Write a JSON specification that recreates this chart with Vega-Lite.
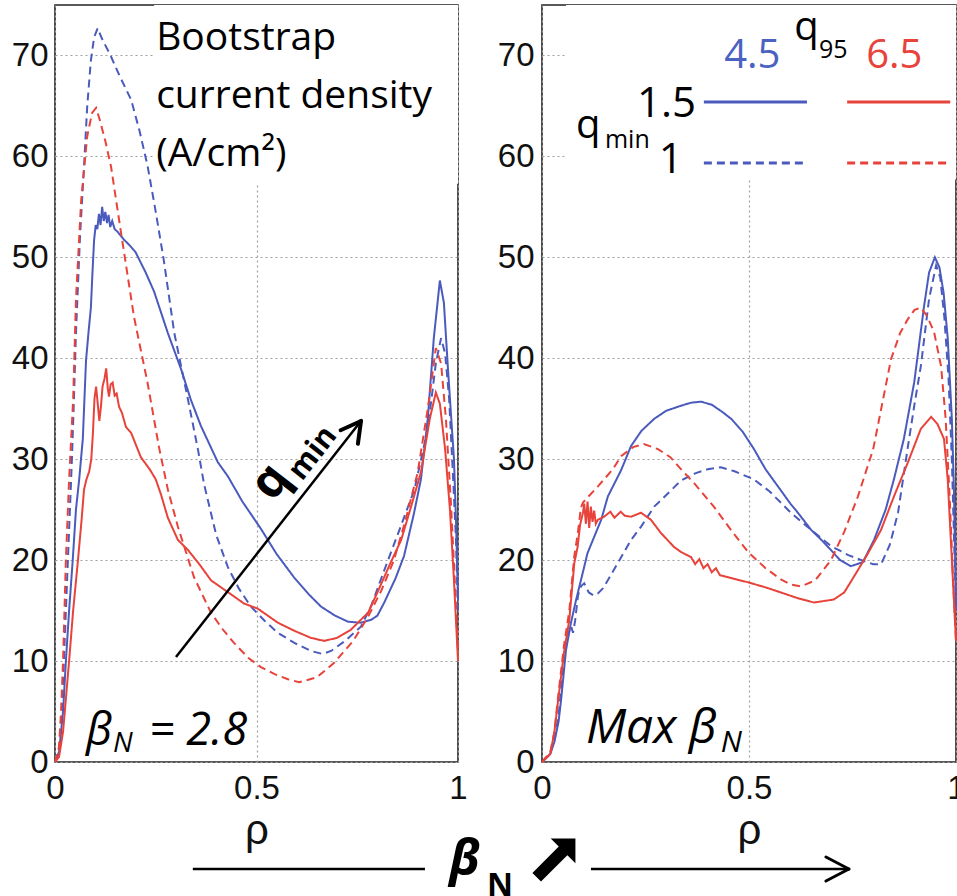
{
  "$schema": "https://vega.github.io/schema/vega-lite/v6.json",
  "background": "white",
  "padding": {"left": 10, "top": 4, "right": 0, "bottom": 0},
  "autosize": {"type": "pad"},
  "bounds": "flush",
  "spacing": 84,
  "config": {
    "view": {"stroke": "#222222", "strokeWidth": 1.6},
    "axis": {
      "labelFont": "Liberation Sans", "labelFontSize": 33, "labelColor": "#111111",
      "titleFont": "Liberation Sans", "titleColor": "#111111",
      "ticks": false, "domain": false,
      "gridColor": "#a0a0a0", "gridDash": [2, 3], "gridWidth": 1.2,
      "labelOverlap": false
    }
  },
  "datasets": {
    "curves": [
      {"p":"L","s":"b15","x":0,"y":0},{"p":"L","s":"b15","x":0.01,"y":1},{"p":"L","s":"b15","x":0.02,"y":5},{"p":"L","s":"b15","x":0.027,"y":10},{"p":"L","s":"b15","x":0.035,"y":15},{"p":"L","s":"b15","x":0.044,"y":20},{"p":"L","s":"b15","x":0.052,"y":25},{"p":"L","s":"b15","x":0.06,"y":28},{"p":"L","s":"b15","x":0.069,"y":32},{"p":"L","s":"b15","x":0.077,"y":39.8},{"p":"L","s":"b15","x":0.083,"y":42.5},{"p":"L","s":"b15","x":0.089,"y":45},{"p":"L","s":"b15","x":0.093,"y":48.5},{"p":"L","s":"b15","x":0.097,"y":51.7},{"p":"L","s":"b15","x":0.101,"y":53.2},{"p":"L","s":"b15","x":0.105,"y":52.8},{"p":"L","s":"b15","x":0.109,"y":54.3},{"p":"L","s":"b15","x":0.113,"y":53.2},{"p":"L","s":"b15","x":0.117,"y":55},{"p":"L","s":"b15","x":0.121,"y":53.6},{"p":"L","s":"b15","x":0.125,"y":54.5},{"p":"L","s":"b15","x":0.129,"y":53.4},{"p":"L","s":"b15","x":0.133,"y":54.2},{"p":"L","s":"b15","x":0.137,"y":53},{"p":"L","s":"b15","x":0.142,"y":53.6},{"p":"L","s":"b15","x":0.148,"y":52.8},{"p":"L","s":"b15","x":0.156,"y":52.5},{"p":"L","s":"b15","x":0.17,"y":51.8},{"p":"L","s":"b15","x":0.185,"y":51.2},{"p":"L","s":"b15","x":0.2,"y":50.5},{"p":"L","s":"b15","x":0.225,"y":48.5},{"p":"L","s":"b15","x":0.246,"y":46.6},{"p":"L","s":"b15","x":0.28,"y":42.5},{"p":"L","s":"b15","x":0.313,"y":38.9},{"p":"L","s":"b15","x":0.337,"y":35.9},{"p":"L","s":"b15","x":0.362,"y":33.3},{"p":"L","s":"b15","x":0.404,"y":29.7},{"p":"L","s":"b15","x":0.429,"y":28.3},{"p":"L","s":"b15","x":0.465,"y":25.8},{"p":"L","s":"b15","x":0.511,"y":23.1},{"p":"L","s":"b15","x":0.55,"y":20.6},{"p":"L","s":"b15","x":0.593,"y":18.3},{"p":"L","s":"b15","x":0.63,"y":16.6},{"p":"L","s":"b15","x":0.66,"y":15.4},{"p":"L","s":"b15","x":0.695,"y":14.5},{"p":"L","s":"b15","x":0.727,"y":13.9},{"p":"L","s":"b15","x":0.759,"y":13.8},{"p":"L","s":"b15","x":0.785,"y":14.1},{"p":"L","s":"b15","x":0.8,"y":14.5},{"p":"L","s":"b15","x":0.817,"y":15.8},{"p":"L","s":"b15","x":0.845,"y":18.2},{"p":"L","s":"b15","x":0.866,"y":20.4},{"p":"L","s":"b15","x":0.89,"y":24.5},{"p":"L","s":"b15","x":0.908,"y":28},{"p":"L","s":"b15","x":0.925,"y":34},{"p":"L","s":"b15","x":0.94,"y":42},{"p":"L","s":"b15","x":0.955,"y":47.7},{"p":"L","s":"b15","x":0.965,"y":45.5},{"p":"L","s":"b15","x":0.975,"y":39},{"p":"L","s":"b15","x":0.985,"y":33},{"p":"L","s":"b15","x":0.99,"y":30},{"p":"L","s":"b15","x":0.995,"y":24},{"p":"L","s":"b15","x":1,"y":16},

      {"p":"L","s":"b1","x":0,"y":0},{"p":"L","s":"b1","x":0.01,"y":1},{"p":"L","s":"b1","x":0.016,"y":4},{"p":"L","s":"b1","x":0.022,"y":10},{"p":"L","s":"b1","x":0.032,"y":20},{"p":"L","s":"b1","x":0.042,"y":30},{"p":"L","s":"b1","x":0.047,"y":36},{"p":"L","s":"b1","x":0.052,"y":42.5},{"p":"L","s":"b1","x":0.062,"y":52},{"p":"L","s":"b1","x":0.072,"y":59},{"p":"L","s":"b1","x":0.08,"y":65},{"p":"L","s":"b1","x":0.089,"y":69.5},{"p":"L","s":"b1","x":0.097,"y":71.8},{"p":"L","s":"b1","x":0.106,"y":72.7},{"p":"L","s":"b1","x":0.115,"y":71.8},{"p":"L","s":"b1","x":0.125,"y":71},{"p":"L","s":"b1","x":0.139,"y":69.9},{"p":"L","s":"b1","x":0.16,"y":68},{"p":"L","s":"b1","x":0.189,"y":65.6},{"p":"L","s":"b1","x":0.21,"y":62.5},{"p":"L","s":"b1","x":0.23,"y":59},{"p":"L","s":"b1","x":0.25,"y":54.5},{"p":"L","s":"b1","x":0.27,"y":49.7},{"p":"L","s":"b1","x":0.296,"y":42.5},{"p":"L","s":"b1","x":0.33,"y":35.9},{"p":"L","s":"b1","x":0.355,"y":30.9},{"p":"L","s":"b1","x":0.37,"y":27.5},{"p":"L","s":"b1","x":0.4,"y":22.5},{"p":"L","s":"b1","x":0.429,"y":19.3},{"p":"L","s":"b1","x":0.456,"y":17.2},{"p":"L","s":"b1","x":0.486,"y":15.4},{"p":"L","s":"b1","x":0.52,"y":14},{"p":"L","s":"b1","x":0.553,"y":12.8},{"p":"L","s":"b1","x":0.594,"y":11.8},{"p":"L","s":"b1","x":0.635,"y":11},{"p":"L","s":"b1","x":0.664,"y":10.7},{"p":"L","s":"b1","x":0.685,"y":11},{"p":"L","s":"b1","x":0.72,"y":12},{"p":"L","s":"b1","x":0.759,"y":13.4},{"p":"L","s":"b1","x":0.785,"y":15.5},{"p":"L","s":"b1","x":0.817,"y":19},{"p":"L","s":"b1","x":0.85,"y":22.5},{"p":"L","s":"b1","x":0.892,"y":27},{"p":"L","s":"b1","x":0.925,"y":33},{"p":"L","s":"b1","x":0.945,"y":39.5},{"p":"L","s":"b1","x":0.958,"y":42},{"p":"L","s":"b1","x":0.968,"y":40.5},{"p":"L","s":"b1","x":0.978,"y":36},{"p":"L","s":"b1","x":0.988,"y":28},{"p":"L","s":"b1","x":0.995,"y":22},{"p":"L","s":"b1","x":1,"y":15},

      {"p":"L","s":"r1","x":0,"y":0},{"p":"L","s":"r1","x":0.01,"y":1.5},{"p":"L","s":"r1","x":0.015,"y":5},{"p":"L","s":"r1","x":0.02,"y":10},{"p":"L","s":"r1","x":0.027,"y":20},{"p":"L","s":"r1","x":0.035,"y":28},{"p":"L","s":"r1","x":0.045,"y":35.9},{"p":"L","s":"r1","x":0.052,"y":45.8},{"p":"L","s":"r1","x":0.065,"y":55.7},{"p":"L","s":"r1","x":0.08,"y":62},{"p":"L","s":"r1","x":0.092,"y":64.3},{"p":"L","s":"r1","x":0.102,"y":64.8},{"p":"L","s":"r1","x":0.112,"y":63.5},{"p":"L","s":"r1","x":0.125,"y":61.5},{"p":"L","s":"r1","x":0.139,"y":59},{"p":"L","s":"r1","x":0.164,"y":52.4},{"p":"L","s":"r1","x":0.196,"y":44.1},{"p":"L","s":"r1","x":0.23,"y":37.5},{"p":"L","s":"r1","x":0.258,"y":31.2},{"p":"L","s":"r1","x":0.28,"y":27},{"p":"L","s":"r1","x":0.305,"y":23.3},{"p":"L","s":"r1","x":0.325,"y":20.8},{"p":"L","s":"r1","x":0.345,"y":18.3},{"p":"L","s":"r1","x":0.387,"y":14.8},{"p":"L","s":"r1","x":0.415,"y":13.2},{"p":"L","s":"r1","x":0.444,"y":11.8},{"p":"L","s":"r1","x":0.48,"y":10.3},{"p":"L","s":"r1","x":0.511,"y":9.4},{"p":"L","s":"r1","x":0.545,"y":8.7},{"p":"L","s":"r1","x":0.578,"y":8.2},{"p":"L","s":"r1","x":0.606,"y":7.9},{"p":"L","s":"r1","x":0.65,"y":8.4},{"p":"L","s":"r1","x":0.692,"y":9.8},{"p":"L","s":"r1","x":0.74,"y":12},{"p":"L","s":"r1","x":0.777,"y":14.4},{"p":"L","s":"r1","x":0.81,"y":17},{"p":"L","s":"r1","x":0.841,"y":20},{"p":"L","s":"r1","x":0.87,"y":24},{"p":"L","s":"r1","x":0.9,"y":28.7},{"p":"L","s":"r1","x":0.925,"y":35},{"p":"L","s":"r1","x":0.945,"y":41},{"p":"L","s":"r1","x":0.958,"y":39.5},{"p":"L","s":"r1","x":0.97,"y":34},{"p":"L","s":"r1","x":0.982,"y":26},{"p":"L","s":"r1","x":0.992,"y":18},{"p":"L","s":"r1","x":1,"y":11},

      {"p":"L","s":"r15","x":0,"y":0},{"p":"L","s":"r15","x":0.01,"y":0.5},{"p":"L","s":"r15","x":0.02,"y":3},{"p":"L","s":"r15","x":0.035,"y":10},{"p":"L","s":"r15","x":0.045,"y":15},{"p":"L","s":"r15","x":0.057,"y":20},{"p":"L","s":"r15","x":0.066,"y":24},{"p":"L","s":"r15","x":0.072,"y":27},{"p":"L","s":"r15","x":0.078,"y":28},{"p":"L","s":"r15","x":0.085,"y":28.8},{"p":"L","s":"r15","x":0.09,"y":30},{"p":"L","s":"r15","x":0.094,"y":32.5},{"p":"L","s":"r15","x":0.098,"y":36},{"p":"L","s":"r15","x":0.102,"y":37.2},{"p":"L","s":"r15","x":0.106,"y":35.5},{"p":"L","s":"r15","x":0.11,"y":33.8},{"p":"L","s":"r15","x":0.114,"y":35.2},{"p":"L","s":"r15","x":0.118,"y":37.2},{"p":"L","s":"r15","x":0.123,"y":38},{"p":"L","s":"r15","x":0.127,"y":39},{"p":"L","s":"r15","x":0.131,"y":37},{"p":"L","s":"r15","x":0.134,"y":36.2},{"p":"L","s":"r15","x":0.138,"y":37.4},{"p":"L","s":"r15","x":0.143,"y":37.6},{"p":"L","s":"r15","x":0.148,"y":36.3},{"p":"L","s":"r15","x":0.153,"y":36.5},{"p":"L","s":"r15","x":0.159,"y":35.2},{"p":"L","s":"r15","x":0.166,"y":34.6},{"p":"L","s":"r15","x":0.176,"y":33.2},{"p":"L","s":"r15","x":0.189,"y":32.6},{"p":"L","s":"r15","x":0.2,"y":31.5},{"p":"L","s":"r15","x":0.213,"y":30.2},{"p":"L","s":"r15","x":0.235,"y":29},{"p":"L","s":"r15","x":0.25,"y":28},{"p":"L","s":"r15","x":0.263,"y":26.5},{"p":"L","s":"r15","x":0.28,"y":24.2},{"p":"L","s":"r15","x":0.305,"y":22},{"p":"L","s":"r15","x":0.33,"y":21},{"p":"L","s":"r15","x":0.36,"y":19.5},{"p":"L","s":"r15","x":0.387,"y":18},{"p":"L","s":"r15","x":0.43,"y":16.8},{"p":"L","s":"r15","x":0.469,"y":15.7},{"p":"L","s":"r15","x":0.503,"y":15.2},{"p":"L","s":"r15","x":0.553,"y":13.8},{"p":"L","s":"r15","x":0.594,"y":13},{"p":"L","s":"r15","x":0.635,"y":12.3},{"p":"L","s":"r15","x":0.668,"y":12},{"p":"L","s":"r15","x":0.7,"y":12.3},{"p":"L","s":"r15","x":0.734,"y":13.1},{"p":"L","s":"r15","x":0.777,"y":14.8},{"p":"L","s":"r15","x":0.8,"y":16.8},{"p":"L","s":"r15","x":0.83,"y":19.5},{"p":"L","s":"r15","x":0.859,"y":22},{"p":"L","s":"r15","x":0.885,"y":25.5},{"p":"L","s":"r15","x":0.908,"y":28.7},{"p":"L","s":"r15","x":0.93,"y":34},{"p":"L","s":"r15","x":0.945,"y":36.6},{"p":"L","s":"r15","x":0.955,"y":35.5},{"p":"L","s":"r15","x":0.968,"y":31},{"p":"L","s":"r15","x":0.98,"y":25},{"p":"L","s":"r15","x":0.99,"y":18},{"p":"L","s":"r15","x":1,"y":10},

      {"p":"R","s":"b15","x":0,"y":0},{"p":"R","s":"b15","x":0.02,"y":0.8},{"p":"R","s":"b15","x":0.03,"y":2},{"p":"R","s":"b15","x":0.04,"y":4},{"p":"R","s":"b15","x":0.046,"y":6.1},{"p":"R","s":"b15","x":0.058,"y":11.1},{"p":"R","s":"b15","x":0.07,"y":13.8},{"p":"R","s":"b15","x":0.082,"y":16},{"p":"R","s":"b15","x":0.094,"y":18},{"p":"R","s":"b15","x":0.11,"y":20.7},{"p":"R","s":"b15","x":0.13,"y":22.7},{"p":"R","s":"b15","x":0.143,"y":24},{"p":"R","s":"b15","x":0.159,"y":26.3},{"p":"R","s":"b15","x":0.175,"y":27.6},{"p":"R","s":"b15","x":0.191,"y":28.9},{"p":"R","s":"b15","x":0.215,"y":31.3},{"p":"R","s":"b15","x":0.24,"y":32.8},{"p":"R","s":"b15","x":0.271,"y":34},{"p":"R","s":"b15","x":0.3,"y":34.8},{"p":"R","s":"b15","x":0.336,"y":35.3},{"p":"R","s":"b15","x":0.36,"y":35.6},{"p":"R","s":"b15","x":0.384,"y":35.7},{"p":"R","s":"b15","x":0.41,"y":35.4},{"p":"R","s":"b15","x":0.435,"y":34.7},{"p":"R","s":"b15","x":0.457,"y":34},{"p":"R","s":"b15","x":0.485,"y":32.7},{"p":"R","s":"b15","x":0.512,"y":31},{"p":"R","s":"b15","x":0.54,"y":29},{"p":"R","s":"b15","x":0.57,"y":27.3},{"p":"R","s":"b15","x":0.6,"y":25.6},{"p":"R","s":"b15","x":0.618,"y":24.7},{"p":"R","s":"b15","x":0.65,"y":23},{"p":"R","s":"b15","x":0.675,"y":22},{"p":"R","s":"b15","x":0.698,"y":21},{"p":"R","s":"b15","x":0.72,"y":20},{"p":"R","s":"b15","x":0.746,"y":19.4},{"p":"R","s":"b15","x":0.775,"y":19.8},{"p":"R","s":"b15","x":0.802,"y":22},{"p":"R","s":"b15","x":0.83,"y":25},{"p":"R","s":"b15","x":0.85,"y":28},{"p":"R","s":"b15","x":0.874,"y":32},{"p":"R","s":"b15","x":0.899,"y":37.6},{"p":"R","s":"b15","x":0.923,"y":45.2},{"p":"R","s":"b15","x":0.935,"y":48.5},{"p":"R","s":"b15","x":0.949,"y":50},{"p":"R","s":"b15","x":0.96,"y":49},{"p":"R","s":"b15","x":0.97,"y":46.5},{"p":"R","s":"b15","x":0.98,"y":42},{"p":"R","s":"b15","x":0.99,"y":34},{"p":"R","s":"b15","x":0.995,"y":27},{"p":"R","s":"b15","x":1,"y":15},

      {"p":"R","s":"b1","x":0,"y":0},{"p":"R","s":"b1","x":0.02,"y":0.8},{"p":"R","s":"b1","x":0.03,"y":2.5},{"p":"R","s":"b1","x":0.04,"y":4.5},{"p":"R","s":"b1","x":0.053,"y":10.4},{"p":"R","s":"b1","x":0.062,"y":12.5},{"p":"R","s":"b1","x":0.07,"y":13.5},{"p":"R","s":"b1","x":0.075,"y":12.8},{"p":"R","s":"b1","x":0.08,"y":14},{"p":"R","s":"b1","x":0.087,"y":16.5},{"p":"R","s":"b1","x":0.094,"y":17.4},{"p":"R","s":"b1","x":0.102,"y":17.7},{"p":"R","s":"b1","x":0.108,"y":17.2},{"p":"R","s":"b1","x":0.113,"y":16.8},{"p":"R","s":"b1","x":0.125,"y":16.5},{"p":"R","s":"b1","x":0.135,"y":16.7},{"p":"R","s":"b1","x":0.147,"y":17.2},{"p":"R","s":"b1","x":0.159,"y":18},{"p":"R","s":"b1","x":0.183,"y":19.7},{"p":"R","s":"b1","x":0.215,"y":22},{"p":"R","s":"b1","x":0.239,"y":23.3},{"p":"R","s":"b1","x":0.271,"y":25.3},{"p":"R","s":"b1","x":0.304,"y":26.6},{"p":"R","s":"b1","x":0.336,"y":27.9},{"p":"R","s":"b1","x":0.37,"y":28.6},{"p":"R","s":"b1","x":0.4,"y":29},{"p":"R","s":"b1","x":0.432,"y":29.2},{"p":"R","s":"b1","x":0.465,"y":28.8},{"p":"R","s":"b1","x":0.512,"y":28},{"p":"R","s":"b1","x":0.55,"y":26.8},{"p":"R","s":"b1","x":0.601,"y":24.7},{"p":"R","s":"b1","x":0.65,"y":23},{"p":"R","s":"b1","x":0.698,"y":21.4},{"p":"R","s":"b1","x":0.74,"y":20.5},{"p":"R","s":"b1","x":0.778,"y":19.9},{"p":"R","s":"b1","x":0.8,"y":19.6},{"p":"R","s":"b1","x":0.819,"y":19.6},{"p":"R","s":"b1","x":0.84,"y":21.5},{"p":"R","s":"b1","x":0.86,"y":24.7},{"p":"R","s":"b1","x":0.884,"y":31.3},{"p":"R","s":"b1","x":0.9,"y":35.5},{"p":"R","s":"b1","x":0.915,"y":39.2},{"p":"R","s":"b1","x":0.935,"y":45.9},{"p":"R","s":"b1","x":0.952,"y":49.2},{"p":"R","s":"b1","x":0.962,"y":48},{"p":"R","s":"b1","x":0.972,"y":44},{"p":"R","s":"b1","x":0.982,"y":38},{"p":"R","s":"b1","x":0.99,"y":30},{"p":"R","s":"b1","x":1,"y":15},

      {"p":"R","s":"r1","x":0,"y":0},{"p":"R","s":"r1","x":0.02,"y":1},{"p":"R","s":"r1","x":0.03,"y":3},{"p":"R","s":"r1","x":0.039,"y":6.5},{"p":"R","s":"r1","x":0.053,"y":11.5},{"p":"R","s":"r1","x":0.066,"y":15},{"p":"R","s":"r1","x":0.078,"y":20.4},{"p":"R","s":"r1","x":0.086,"y":22.5},{"p":"R","s":"r1","x":0.094,"y":25.2},{"p":"R","s":"r1","x":0.099,"y":25.7},{"p":"R","s":"r1","x":0.11,"y":26.2},{"p":"R","s":"r1","x":0.135,"y":27.3},{"p":"R","s":"r1","x":0.171,"y":29},{"p":"R","s":"r1","x":0.191,"y":30.3},{"p":"R","s":"r1","x":0.22,"y":31.2},{"p":"R","s":"r1","x":0.246,"y":31.5},{"p":"R","s":"r1","x":0.28,"y":31},{"p":"R","s":"r1","x":0.31,"y":30.2},{"p":"R","s":"r1","x":0.336,"y":29},{"p":"R","s":"r1","x":0.37,"y":27.5},{"p":"R","s":"r1","x":0.415,"y":25.3},{"p":"R","s":"r1","x":0.46,"y":22.8},{"p":"R","s":"r1","x":0.498,"y":20.8},{"p":"R","s":"r1","x":0.54,"y":19.2},{"p":"R","s":"r1","x":0.577,"y":18.1},{"p":"R","s":"r1","x":0.6,"y":17.6},{"p":"R","s":"r1","x":0.626,"y":17.4},{"p":"R","s":"r1","x":0.66,"y":18},{"p":"R","s":"r1","x":0.698,"y":20},{"p":"R","s":"r1","x":0.73,"y":22.8},{"p":"R","s":"r1","x":0.763,"y":26.3},{"p":"R","s":"r1","x":0.8,"y":31},{"p":"R","s":"r1","x":0.843,"y":39.9},{"p":"R","s":"r1","x":0.865,"y":42.5},{"p":"R","s":"r1","x":0.884,"y":43.9},{"p":"R","s":"r1","x":0.9,"y":44.8},{"p":"R","s":"r1","x":0.915,"y":45},{"p":"R","s":"r1","x":0.93,"y":44.2},{"p":"R","s":"r1","x":0.947,"y":42.6},{"p":"R","s":"r1","x":0.964,"y":39.2},{"p":"R","s":"r1","x":0.975,"y":34},{"p":"R","s":"r1","x":0.985,"y":26},{"p":"R","s":"r1","x":0.993,"y":18},{"p":"R","s":"r1","x":1,"y":12},

      {"p":"R","s":"r15","x":0,"y":0},{"p":"R","s":"r15","x":0.02,"y":0.8},{"p":"R","s":"r15","x":0.03,"y":3},{"p":"R","s":"r15","x":0.039,"y":6.1},{"p":"R","s":"r15","x":0.053,"y":10.8},{"p":"R","s":"r15","x":0.066,"y":14.1},{"p":"R","s":"r15","x":0.078,"y":19.7},{"p":"R","s":"r15","x":0.086,"y":21.3},{"p":"R","s":"r15","x":0.092,"y":23.5},{"p":"R","s":"r15","x":0.099,"y":24.7},{"p":"R","s":"r15","x":0.102,"y":25.6},{"p":"R","s":"r15","x":0.106,"y":23.6},{"p":"R","s":"r15","x":0.11,"y":25.8},{"p":"R","s":"r15","x":0.114,"y":23.2},{"p":"R","s":"r15","x":0.118,"y":25.3},{"p":"R","s":"r15","x":0.122,"y":23.8},{"p":"R","s":"r15","x":0.126,"y":24.9},{"p":"R","s":"r15","x":0.13,"y":23.6},{"p":"R","s":"r15","x":0.135,"y":24},{"p":"R","s":"r15","x":0.15,"y":24.3},{"p":"R","s":"r15","x":0.165,"y":24.8},{"p":"R","s":"r15","x":0.175,"y":24.2},{"p":"R","s":"r15","x":0.19,"y":24.8},{"p":"R","s":"r15","x":0.2,"y":24.4},{"p":"R","s":"r15","x":0.215,"y":24.3},{"p":"R","s":"r15","x":0.239,"y":24.7},{"p":"R","s":"r15","x":0.263,"y":24},{"p":"R","s":"r15","x":0.287,"y":22.7},{"p":"R","s":"r15","x":0.319,"y":21.3},{"p":"R","s":"r15","x":0.336,"y":20.8},{"p":"R","s":"r15","x":0.36,"y":20.3},{"p":"R","s":"r15","x":0.37,"y":19.6},{"p":"R","s":"r15","x":0.38,"y":20.1},{"p":"R","s":"r15","x":0.39,"y":19.2},{"p":"R","s":"r15","x":0.4,"y":19.6},{"p":"R","s":"r15","x":0.41,"y":18.8},{"p":"R","s":"r15","x":0.42,"y":19.2},{"p":"R","s":"r15","x":0.43,"y":18.5},{"p":"R","s":"r15","x":0.45,"y":18.3},{"p":"R","s":"r15","x":0.498,"y":17.8},{"p":"R","s":"r15","x":0.54,"y":17.3},{"p":"R","s":"r15","x":0.577,"y":16.8},{"p":"R","s":"r15","x":0.62,"y":16.2},{"p":"R","s":"r15","x":0.657,"y":15.8},{"p":"R","s":"r15","x":0.705,"y":16.1},{"p":"R","s":"r15","x":0.73,"y":16.8},{"p":"R","s":"r15","x":0.754,"y":18.4},{"p":"R","s":"r15","x":0.785,"y":20.5},{"p":"R","s":"r15","x":0.819,"y":23},{"p":"R","s":"r15","x":0.85,"y":26.3},{"p":"R","s":"r15","x":0.884,"y":29.7},{"p":"R","s":"r15","x":0.915,"y":33},{"p":"R","s":"r15","x":0.94,"y":34.2},{"p":"R","s":"r15","x":0.955,"y":33.5},{"p":"R","s":"r15","x":0.971,"y":32},{"p":"R","s":"r15","x":0.98,"y":28},{"p":"R","s":"r15","x":0.99,"y":20},{"p":"R","s":"r15","x":1,"y":12}
    ]
  },
  "hconcat": [
    {
      "width": 403,
      "height": 757,
      "encoding": {
        "x": {"field": "x", "type": "quantitative", "scale": {"domain": [0, 1]},
              "axis": {"values": [0, 0.5, 1], "format": "~g", "title": "ρ", "grid": true, "labelFlush": false, "labelPadding": 10, "titlePadding": 5, "titleFontSize": 42, "titleFontWeight": "normal"}},
        "y": {"field": "y", "type": "quantitative", "scale": {"domain": [0, 75]},
              "axis": {"values": [0, 10, 20, 30, 40, 50, 60, 70], "title": null, "grid": true, "labelPadding": 7}}
      },
      "layer": [
        {"data": {"values": [{"x": 0.246, "x2": 1, "y": 57.3, "y2": 75}]},
         "mark": {"type": "rect", "fill": "white"},
         "encoding": {"x2": {"field": "x2"}, "y2": {"field": "y2"}}},
        {"data": {"name": "curves"},
         "transform": [{"filter": "datum.p === 'L'"}],
         "mark": {"type": "line", "strokeWidth": 2},
         "encoding": {
           "color": {"field": "s", "type": "nominal", "scale": {"domain": ["b15", "b1", "r15", "r1"], "range": ["#4a5bbd", "#4a5bbd", "#e8433b", "#e8433b"]}, "legend": null},
           "strokeDash": {"field": "s", "type": "nominal", "scale": {"domain": ["b15", "b1", "r15", "r1"], "range": [[1, 0], [8, 5], [1, 0], [8, 5]]}, "legend": null}
         }},
        {"data": {"values": [{"x": 0.3002, "y": 10.4, "x2": 0.7593, "y2": 33.79}]},
         "mark": {"type": "rule", "color": "black", "strokeWidth": 2.5},
         "encoding": {"x2": {"field": "x2"}, "y2": {"field": "y2"}}},
        {"data": {"values": [{"x": 0.7087, "y": 32.87, "x2": 0.7593, "y2": 33.79}, {"x": 0.7516, "y": 31.52, "x2": 0.7593, "y2": 33.79}]},
         "mark": {"type": "rule", "color": "black", "strokeWidth": 4, "strokeCap": "round"},
         "encoding": {"x2": {"field": "x2"}, "y2": {"field": "y2"}}},
        {"data": {"values": [{"x": 0.251, "y": 70.54, "t": "Bootstrap\ncurrent density\n(A/cm²)"}]},
         "mark": {"type": "text", "font": "Open Sans", "fontSize": 39, "align": "left", "baseline": "alphabetic", "lineBreak": "\n", "lineHeight": 58, "color": "black"},
         "encoding": {"text": {"field": "t"}}},
        {"data": {"values": [{"x": 0.536, "y": 27.74, "t": "q"}]},
         "mark": {"type": "text", "font": "Open Sans", "fontSize": 48, "fontWeight": "bold", "align": "center", "baseline": "middle", "angle": -52, "color": "black"},
         "encoding": {"text": {"field": "t"}}},
        {"data": {"values": [{"x": 0.64, "y": 30.6, "t": "min"}]},
         "mark": {"type": "text", "font": "Open Sans", "fontSize": 30, "fontWeight": "bold", "align": "center", "baseline": "middle", "angle": -52, "color": "black"},
         "encoding": {"text": {"field": "t"}}},
        {"data": {"values": [{"x": 0.077, "y": 1.68, "t": "β"}, {"x": 0.233, "y": 1.68, "t": "= 2.8"}]},
         "mark": {"type": "text", "font": "Open Sans", "fontSize": 45, "fontStyle": "italic", "align": "left", "baseline": "alphabetic", "color": "black"},
         "encoding": {"text": {"field": "t"}}},
        {"data": {"values": [{"x": 0.144, "y": 0.99, "t": "N"}]},
         "mark": {"type": "text", "font": "Open Sans", "fontSize": 28, "fontStyle": "italic", "align": "left", "baseline": "alphabetic", "color": "black"},
         "encoding": {"text": {"field": "t"}}},
        {"data": {"values": [{"x": 0.342, "y": -10.6, "x2": 0.918, "y2": -10.6}, {"x": 1.33, "y": -10.6, "x2": 1.97, "y2": -10.6}]},
         "mark": {"type": "rule", "color": "black", "strokeWidth": 2.5},
         "encoding": {"x2": {"field": "x2"}, "y2": {"field": "y2"}}},
        {"data": {"values": [{"x": 1.913, "y": -9.41, "x2": 1.97, "y2": -10.6}, {"x": 1.913, "y": -11.79, "x2": 1.97, "y2": -10.6}]},
         "mark": {"type": "rule", "color": "black", "strokeWidth": 3, "strokeCap": "round"},
         "encoding": {"x2": {"field": "x2"}, "y2": {"field": "y2"}}},
        {"data": {"values": [{"x": 0.978, "y": -11.2, "t": "β"}]},
         "mark": {"type": "text", "font": "Open Sans", "fontSize": 50, "fontStyle": "italic", "fontWeight": "bold", "align": "left", "baseline": "alphabetic", "color": "black"},
         "encoding": {"text": {"field": "t"}}},
        {"data": {"values": [{"x": 1.072, "y": -13.3, "t": "N"}]},
         "mark": {"type": "text", "font": "Open Sans", "fontSize": 32, "fontWeight": "bold", "align": "left", "baseline": "alphabetic", "color": "black"},
         "encoding": {"text": {"field": "t"}}},
        {"data": {"values": [{"x": 1.238, "y": -9.71}]},
         "mark": {"type": "point", "shape": "M-1,0.6L0.225,-0.625L-0.15,-1L1,-1L1,0.15L0.625,-0.225L-0.6,1Z", "size": 1850, "filled": true, "color": "black", "opacity": 1, "strokeWidth": 0}}
      ]
    },
    {
      "width": 414,
      "height": 757,
      "encoding": {
        "x": {"field": "x", "type": "quantitative", "scale": {"domain": [0, 1]},
              "axis": {"values": [0, 0.5, 1], "format": "~g", "title": "ρ", "grid": true, "labelFlush": false, "labelPadding": 10, "titlePadding": 5, "titleFontSize": 42, "titleFontWeight": "normal"}},
        "y": {"field": "y", "type": "quantitative", "scale": {"domain": [0, 75]},
              "axis": {"values": [0, 10, 20, 30, 40, 50, 60, 70], "title": null, "grid": true, "labelPadding": 8}}
      },
      "layer": [
        {"data": {"values": [{"x": 0.058, "x2": 1, "y": 57.7, "y2": 75}]},
         "mark": {"type": "rect", "fill": "white"},
         "encoding": {"x2": {"field": "x2"}, "y2": {"field": "y2"}}},
        {"data": {"name": "curves"},
         "transform": [{"filter": "datum.p === 'R'"}],
         "mark": {"type": "line", "strokeWidth": 2},
         "encoding": {
           "color": {"field": "s", "type": "nominal", "scale": {"domain": ["b15", "b1", "r15", "r1"], "range": ["#4a5bbd", "#4a5bbd", "#e8433b", "#e8433b"]}, "legend": null},
           "strokeDash": {"field": "s", "type": "nominal", "scale": {"domain": ["b15", "b1", "r15", "r1"], "range": [[1, 0], [8, 5], [1, 0], [8, 5]]}, "legend": null}
         }},
        {"data": {"values": [{"x": 0.391, "x2": 0.64, "y": 65.39, "s": "b15"}, {"x": 0.737, "x2": 0.986, "y": 65.39, "s": "r15"}, {"x": 0.391, "x2": 0.64, "y": 59.35, "s": "b1"}, {"x": 0.737, "x2": 0.986, "y": 59.35, "s": "r1"}]},
         "mark": {"type": "rule", "strokeWidth": 3},
         "encoding": {
           "x2": {"field": "x2"},
           "color": {"field": "s", "type": "nominal", "scale": {"domain": ["b15", "b1", "r15", "r1"], "range": ["#4a5bbd", "#4a5bbd", "#e8433b", "#e8433b"]}, "legend": null},
           "strokeDash": {"field": "s", "type": "nominal", "scale": {"domain": ["b15", "b1", "r15", "r1"], "range": [[1, 0], [8, 5], [1, 0], [8, 5]]}, "legend": null}
         }},
        {"data": {"values": [{"x": 0.44, "y": 68.76, "t": "4.5"}]},
         "mark": {"type": "text", "font": "Open Sans", "fontSize": 40, "align": "left", "baseline": "alphabetic", "color": "#4a62c0"},
         "encoding": {"text": {"field": "t"}}},
        {"data": {"values": [{"x": 0.783, "y": 68.76, "t": "6.5"}]},
         "mark": {"type": "text", "font": "Open Sans", "fontSize": 40, "align": "left", "baseline": "alphabetic", "color": "#e8433b"},
         "encoding": {"text": {"field": "t"}}},
        {"data": {"values": [{"x": 0.609, "y": 71.5, "t": "q"}, {"x": 0.082, "y": 61.8, "t": "q"}]},
         "mark": {"type": "text", "font": "Open Sans", "fontSize": 40, "align": "left", "baseline": "alphabetic", "color": "black"},
         "encoding": {"text": {"field": "t"}}},
        {"data": {"values": [{"x": 0.669, "y": 69.75, "t": "95"}, {"x": 0.152, "y": 60.8, "t": "min"}]},
         "mark": {"type": "text", "font": "Open Sans", "fontSize": 25, "align": "left", "baseline": "alphabetic", "color": "black"},
         "encoding": {"text": {"field": "t"}}},
        {"data": {"values": [{"x": 0.372, "y": 63.9, "t": "1.5"}, {"x": 0.34, "y": 58.4, "t": "1"}]},
         "mark": {"type": "text", "font": "Open Sans", "fontSize": 42, "align": "right", "baseline": "alphabetic", "color": "black"},
         "encoding": {"text": {"field": "t"}}},
        {"data": {"values": [{"x": 0.106, "y": 1.88, "t": "Max β"}]},
         "mark": {"type": "text", "font": "Open Sans", "fontSize": 48, "fontStyle": "italic", "align": "left", "baseline": "alphabetic", "color": "black"},
         "encoding": {"text": {"field": "t"}}},
        {"data": {"values": [{"x": 0.432, "y": 0.99, "t": "N"}]},
         "mark": {"type": "text", "font": "Open Sans", "fontSize": 30, "fontStyle": "italic", "align": "left", "baseline": "alphabetic", "color": "black"},
         "encoding": {"text": {"field": "t"}}}
      ]
    }
  ]
}
